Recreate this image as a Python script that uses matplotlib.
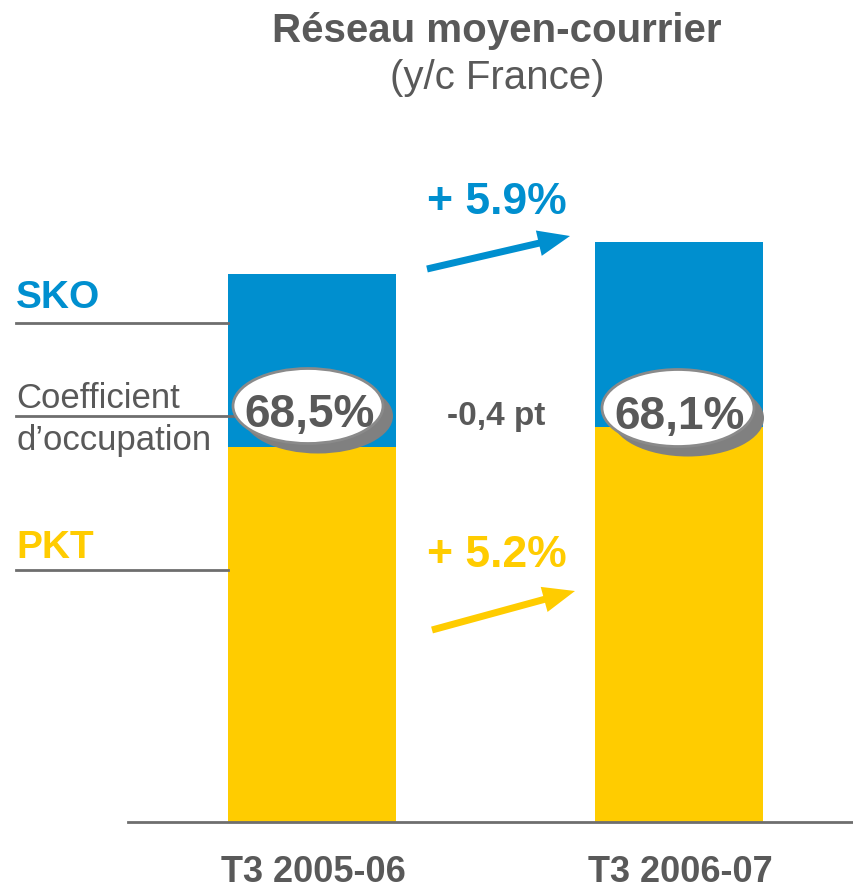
"""
Réseau moyen-courrier : SKO / PKT stacked bars with load factor
"""
import matplotlib
matplotlib.use("Agg")
import matplotlib.pyplot as plt
from matplotlib.patches import Ellipse, FancyArrow
from matplotlib.transforms import Affine2D

plt.rcParams['font.family'] = ['Liberation Sans', 'DejaVu Sans']

# data
periods = ['T3 2005-06', 'T3 2006-07']
sko = [100.0, 105.9]          # index, total bar height
pkt = [68.5, 72.1]            # index, yellow part
load_factor = ['68,5%', '68,1%']
sko_growth = '+ 5.9%'
pkt_growth = '+ 5.2%'
lf_change = '-0,4 pt'

BLUE = '#008fcf'
YELLOW = '#ffcc00'
GREY = '#595959'
LINE = '#6e6e6e'

W, H = 854, 889
fig = plt.figure(figsize=(W / 100, H / 100), dpi=100)

# bars: baseline at pixel row 822, 100 units = 548 px
ax = fig.add_axes([0, (H - 822) / H, 1, 822 / H])
ax.set_xlim(-0.850, 1.477)
ax.set_ylim(0, 822 / 5.48)
ax.axis('off')

x = [0, 1]
bw = 168 / 367
ax.bar(x, pkt, width=bw, color=YELLOW, zorder=2)
ax.bar(x, [s - p for s, p in zip(sko, pkt)], bottom=pkt, width=bw, color=BLUE, zorder=2)

# pixel coordinates (origin top-left) -> figure
px = Affine2D().scale(1 / W, -1 / H).translate(0, 1) + fig.transFigure

def text(x, y, s, **kw):
    fig.text(x, y, s, transform=px, va='baseline', **kw)

def hline(x0, x1, y, lw=2):
    fig.add_artist(plt.Line2D([x0, x1], [y, y], transform=px, color=LINE, lw=lw))

# titles
text(497, 42, 'Réseau moyen-courrier', ha='center',
     fontsize=29, fontweight='bold', color=GREY)
text(497, 89, '(y/c France)', ha='center', fontsize=29, color=GREY)

# left legend labels
text(16, 308, 'SKO', ha='left', fontsize=28, fontweight='bold', color=BLUE)
hline(16, 228, 323)
text(16, 408, 'Coefficient', ha='left', fontsize=25, color=GREY)
hline(16, 234, 416)
text(16, 450, 'd\u2019occupation', ha='left', fontsize=25, color=GREY)
text(16, 558, 'PKT', ha='left', fontsize=28, fontweight='bold', color=YELLOW)
hline(16, 228, 570)

# load factor ellipses
for (cx, cy, ew, eh), lf in zip([(308, 406, 150, 75), (678, 408, 152, 77)], load_factor):
    fig.add_artist(Ellipse((cx + 10, cy + 10), ew, eh, transform=px,
                           facecolor='#808080', edgecolor='none', zorder=3))
    fig.add_artist(Ellipse((cx, cy), ew, eh, transform=px,
                           facecolor='white', edgecolor='#8a8a8a', lw=2, zorder=4))
    text(cx + 2, cy + 21, lf, ha='center', fontsize=33,
         fontweight='bold', color=GREY, zorder=5)

text(496, 425, lf_change, ha='center', fontsize=24,
     fontweight='bold', color=GREY)

# growth arrows
text(497, 214, sko_growth, ha='center', fontsize=32,
     fontweight='bold', color=BLUE)
fig.add_artist(FancyArrow(427, 269, 143, -33, width=7, head_width=26, head_length=32,
                          length_includes_head=True, transform=px,
                          color=BLUE, lw=0))
text(497, 567, pkt_growth, ha='center', fontsize=32,
     fontweight='bold', color=YELLOW)
fig.add_artist(FancyArrow(432, 630, 143, -39, width=7, head_width=26, head_length=32,
                          length_includes_head=True, transform=px,
                          color=YELLOW, lw=0))

# baseline and category labels
hline(128, 854, 822, lw=2)
for xc, lab in zip([313, 680], periods):
    text(xc, 882, lab, ha='center', fontsize=26,
         fontweight='bold', color=GREY)

fig.savefig('out.png', dpi=100)
